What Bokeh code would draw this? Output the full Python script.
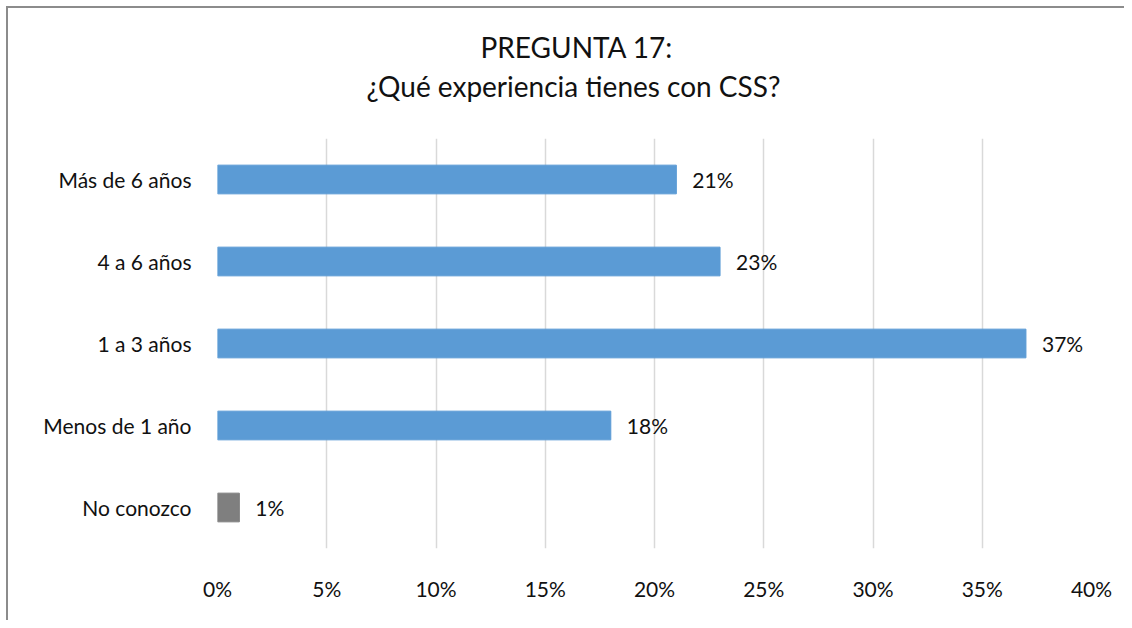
from bokeh.plotting import figure
from bokeh.models import Title, PrintfTickFormatter, FixedTicker, Range1d, ColumnDataSource
from bokeh.core.properties import value
from bokeh.embed import file_html
from bokeh.resources import INLINE

# ---- data ----
categories = ["No conozco", "Menos de 1 año", "1 a 3 años", "4 a 6 años", "Más de 6 años"]
percentages = [1, 18, 37, 23, 21]
x_ticks = [0, 5, 10, 15, 20, 25, 30, 35, 40]
title_line1 = "PREGUNTA 17:"
title_line2 = "¿Qué experiencia tienes con CSS?"

FONT = "Lato"
BLUE = "#5B9BD5"
GRAY = "#7F7F7F"
TEXT = "#111111"
BORDER = "#8c8c8c"

W, H = 1124, 620
F_LEFT, F_RIGHT, F_TOP, F_BOTTOM = 217, 1091, 138, 548

colors = [GRAY if c == "No conozco" else BLUE for c in categories]
labels = [f"{v}%" for v in percentages]
src = ColumnDataSource(dict(cat=categories, val=percentages, color=colors, label=labels))

border_bg = (f"linear-gradient({BORDER},{BORDER}) 6px 6px / 2px 100% no-repeat, "
             f"linear-gradient({BORDER},{BORDER}) 6px 6px / 100% 2px no-repeat, white")

p = figure(width=W, height=H, y_range=categories, x_range=Range1d(0, 40),
           output_backend="svg", toolbar_location=None, title=None,
           min_border_left=F_LEFT, min_border_right=W - F_RIGHT,
           min_border_top=F_TOP, min_border_bottom=H - F_BOTTOM,
           styles={"background": border_bg})
p.border_fill_color = None

p.hbar(y="cat", right="val", left=0, height=0.35, color="color", source=src)
p.text(x="val", y="cat", text="label", source=src, x_offset=16,
       text_align="left", text_baseline="middle", text_font=value(FONT),
       text_font_size="21px", text_color=TEXT)

p.outline_line_color = None
p.ygrid.grid_line_color = None
p.xgrid.grid_line_color = "#D9D9D9"
p.xgrid.grid_line_width = 1.5
p.xaxis.ticker = FixedTicker(ticks=x_ticks)
p.xaxis.formatter = PrintfTickFormatter(format="%d%%")

for ax in (p.xaxis, p.yaxis):
    ax.axis_line_color = None
    ax.major_tick_line_color = None
    ax.minor_tick_line_color = None
    ax.major_label_text_font = FONT
    ax.major_label_text_font_size = "21px"
    ax.major_label_text_color = TEXT

p.xaxis.major_label_standoff = 21
p.yaxis.major_label_standoff = 20
p.y_range.range_padding = 0

# blank spacer panel between the plot area and the title lines
p.add_layout(Title(text=" ", standoff=33, text_font_size="1px"), "above")

p.add_layout(Title(text=title_line2, align="left", offset=149, standoff=0,
                   text_font=FONT, text_font_size="28px", text_font_style="normal",
                   text_color=TEXT), "above")
p.add_layout(Title(text=title_line1, align="left", offset=263, standoff=5,
                   text_font=FONT, text_font_size="28px", text_font_style="normal",
                   text_color=TEXT), "above")

open("out.html", "w").write(file_html(p, INLINE))
